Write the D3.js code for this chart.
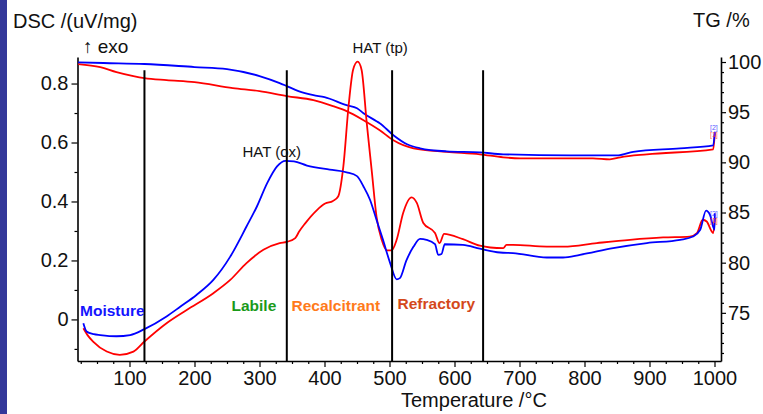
<!DOCTYPE html>
<html><head><meta charset="utf-8">
<script src="https://cdn.jsdelivr.net/npm/d3@7"></script>
<style>
body{margin:0;background:#fff;}
svg{display:block;font-family:"Liberation Sans",Arial,Helvetica,sans-serif;}
</style></head><body>
<svg id="c" width="763" height="414"></svg>
<script>
// ---- data ----
const dscBlueT = [29,34,45,55,80,101,123,157,178,203,229,255,280,296,312,327,340,353,373,408,434,450,460,470,480,490,501,511,516,526,537,547,557,570,575,580,585,613,639,670,690,742,767,793,844,896,947,967,978,987,993,1000,1000.5];
const dscBlueV = [-0.013,-0.041,-0.050,-0.053,-0.057,-0.053,-0.033,0.010,0.043,0.083,0.134,0.213,0.315,0.383,0.463,0.519,0.538,0.536,0.522,0.508,0.499,0.486,0.451,0.406,0.338,0.270,0.191,0.136,0.140,0.200,0.247,0.273,0.270,0.255,0.219,0.222,0.255,0.253,0.240,0.227,0.225,0.210,0.210,0.219,0.242,0.259,0.270,0.281,0.304,0.369,0.355,0.304,0.360];
const dscRedT = [29,36,44,65,85,106,123,157,188,229,255,280,306,331,342,355,361,370,388,401,413,421,429,437,444,451,457,465,473,480,488,496,503,511,521,534,542,552,570,577,584,613,639,655,675,680,690,742,768,819,870,921,962,973,982,988,998,1000.5];
const dscRedV = [-0.030,-0.055,-0.075,-0.109,-0.120,-0.109,-0.075,-0.013,0.032,0.089,0.134,0.191,0.236,0.259,0.263,0.276,0.298,0.325,0.370,0.393,0.402,0.417,0.519,0.723,0.847,0.874,0.847,0.666,0.497,0.349,0.270,0.234,0.234,0.270,0.361,0.414,0.395,0.327,0.293,0.259,0.290,0.272,0.250,0.244,0.242,0.253,0.253,0.247,0.247,0.259,0.270,0.278,0.281,0.293,0.338,0.332,0.293,0.345];
const tgBlueT = [21,60,123,200,250,300,331,342,360,383,400,434,450,460,480,485,506,527,547,588,639,675,778,852,875,947,998,1000.5];
const tgBlueV = [99.97,99.9,99.8,99.5,99.3,98.6,97.9,97.6,97.1,96.7,96.5,95.7,95.4,94.9,94.1,93.9,92.7,91.8,91.4,91.1,91.0,90.8,90.7,90.7,91.05,91.4,91.7,93.05];
const tgRedT = [21,55,80,106,123,157,200,259,300,342,383,413,434,460,485,506,537,588,639,675,701,813,839,855,896,998,1000.5];
const tgRedV = [99.8,99.5,99.0,98.6,98.4,98.2,98.0,97.4,97.1,96.6,96.2,95.6,95.1,94.2,93.2,92.2,91.4,91.05,90.8,90.5,90.4,90.4,90.3,90.5,90.8,91.3,92.9];
const stageBoundaries = [123, 342, 504, 644];
const stageLabels = ["Moisture","Labile","Recalcitrant","Refractory"];
const xMajorTicks = [100,200,300,400,500,600,700,800,900,1000];
const dscTicks = [0,0.2,0.4,0.6,0.8];
const tgTicks = [75,80,85,90,95,100];

// ---- layout ----
const svg = d3.select("#c");
const x = d3.scaleLinear().domain([20,1010]).range([77.5,721]);
const yL = d3.scaleLinear().domain([-0.141,0.89]).range([361,57]);
const yR = d3.scaleLinear().domain([70.2,100.5]).range([361,57]);

svg.append("rect").attr("x",0).attr("y",0).attr("width",7).attr("height",414).attr("fill","#34389a");

function styleAxis(g){
  g.selectAll("path").attr("stroke","#000").attr("stroke-width",1.6);
  g.selectAll("line").attr("stroke","#000").attr("stroke-width",1.2);
  g.selectAll("text").attr("font-size",20).attr("fill","#111").attr("font-family","Liberation Sans,Arial,sans-serif");
}

// minor ticks
const xMinor = d3.range(25,1001,25).filter(v=>v%100!==0);
svg.append("g").attr("transform","translate(0,361)")
  .call(d3.axisBottom(x).tickValues(xMinor).tickSize(3).tickFormat(""))
  .call(g=>g.select("path").remove()).call(styleAxis);
svg.append("g").attr("transform","translate(77.5,0)")
  .call(d3.axisLeft(yL).tickValues([-0.1,0.1,0.3,0.5,0.7]).tickSize(3).tickFormat(""))
  .call(g=>g.select("path").remove()).call(styleAxis);
svg.append("g").attr("transform","translate(721,0)")
  .call(d3.axisRight(yR).tickValues(d3.range(71,101,1).filter(v=>v%5!==0)).tickSize(3).tickFormat(""))
  .call(g=>g.select("path").remove()).call(styleAxis);

// major axes
svg.append("g").attr("transform","translate(0,361)")
  .call(d3.axisBottom(x).tickValues(xMajorTicks).tickSize(6).tickSizeOuter(0).tickPadding(4).tickFormat(d3.format("d")))
  .call(styleAxis);
svg.append("g").attr("transform","translate(77.5,0)")
  .call(d3.axisLeft(yL).tickValues(dscTicks).tickSize(6).tickSizeOuter(0).tickPadding(3).tickFormat(d=>d===0?"0":d3.format(".1f")(d)))
  .call(styleAxis);
svg.append("g").attr("transform","translate(721,0)")
  .call(d3.axisRight(yR).tickValues(tgTicks).tickSize(5).tickSizeOuter(0).tickPadding(2).tickFormat(d3.format("d")))
  .call(styleAxis);

// curves
const lineL = (T,V)=>d3.line().x((d,i)=>x(T[i])).y((d,i)=>yL(V[i])).curve(d3.curveMonotoneX)(V);
const lineR = (T,V)=>d3.line().x((d,i)=>x(T[i])).y((d,i)=>yR(V[i])).curve(d3.curveMonotoneX)(V);
const curves = [
  {d:lineR(tgRedT,tgRedV), c:"#ff0000"},
  {d:lineR(tgBlueT,tgBlueV), c:"#0000ff"},
  {d:lineL(dscRedT,dscRedV), c:"#ff0000"},
  {d:lineL(dscBlueT,dscBlueV), c:"#0000ff"}
];
svg.append("g").selectAll("path").data(curves).join("path")
  .attr("d",d=>d.d).attr("fill","none").attr("stroke",d=>d.c).attr("stroke-width",1.8);

// stage boundaries
svg.append("g").selectAll("line").data(stageBoundaries).join("line")
  .attr("x1",d=>x(d)).attr("x2",d=>x(d)).attr("y1",yL(0.845)).attr("y2",361)
  .attr("stroke","#000").attr("stroke-width",2);

// stage labels
const stageColors = ["#1414ff","#1a9a1a","#ff7a1a","#d4481a"];
const stageX = [80,231.5,291.5,397.5];
const stageY = [316,310.5,310.5,308.5];
svg.append("g").selectAll("text").data(stageLabels).join("text")
  .attr("x",(d,i)=>stageX[i]).attr("y",(d,i)=>stageY[i])
  .attr("fill",(d,i)=>stageColors[i]).attr("font-size",15.5).attr("font-weight","bold").text(d=>d);

// titles
const t = svg.append("g").attr("fill","#111");
t.append("text").attr("x",13).attr("y",28).attr("font-size",20).text("DSC /(uV/mg)");
t.append("text").attr("x",83).attr("y",53).attr("font-size",19).text("↑ exo");
t.append("text").attr("x",693).attr("y",27).attr("font-size",20).text("TG /%");
t.append("text").attr("x",401).attr("y",407).attr("font-size",20).text("Temperature /°C");
t.append("text").attr("x",242.5).attr("y",157).attr("font-size",15).text("HAT (ox)");
t.append("text").attr("x",352.5).attr("y",53).attr("font-size",15).text("HAT (tp)");

// curve tags
const tags = [
  {x:710,y:130,s:"[2]",c:"#3030ff"},{x:710,y:137,s:"[1]",c:"#ff3030"},
  {x:710,y:216,s:"[2]",c:"#3030ff"},{x:710,y:223,s:"[1]",c:"#ff3030"}
];
svg.append("g").selectAll("text").data(tags).join("text")
  .attr("x",d=>d.x).attr("y",d=>d.y).attr("fill",d=>d.c).attr("font-size",7).attr("opacity",0.8).text(d=>d.s);
</script>
</body></html>
